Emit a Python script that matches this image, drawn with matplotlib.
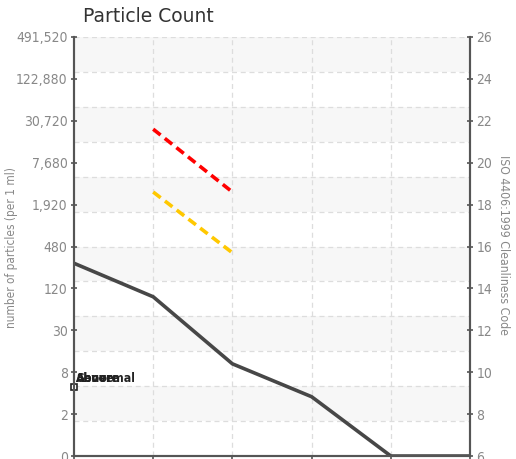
#!/usr/bin/env python3
"""Chart: particle count vs ISO 4406:1999 cleanliness code."""

import numpy as np
import matplotlib
matplotlib.use("Agg")
import matplotlib.pyplot as plt
from matplotlib.font_manager import FontProperties

# Data
iso_codes = [6, 8, 10, 12, 14, 16, 18, 20, 22, 24, 26]
count_labels = ["0", "2", "8", "30", "120", "480", "1,920", "7,680", "30,720", "122,880", "491,520"]

channels = [0, 1, 2, 3, 4, 5]
measured = [15.2, 13.6, 10.4, 8.83, 6.0, 6.0]

limit_x = [1, 2]
severe_limit = [21.6, 18.6]
abnormal_limit = [18.6, 15.7]

legend_labels = ["Above", "Abnormal", "Severe"]

# Plot
fig = plt.figure(figsize=(5.16, 4.59), dpi=100)
ax = fig.add_axes([0.1434, 0.0065, 0.7675, 0.9129])

# alternating bands + dashed grid
edges = np.linspace(6, 26, 13)
for i in range(12):
    if i % 2 == 0:
        ax.axhspan(edges[-2 - i], edges[-1 - i], color="#f7f7f7", lw=0, zorder=0)
for e in edges[1:]:
    ax.axhline(e, color="#dddddd", lw=0.9, ls=(0, (4, 3)), zorder=1)
for c in channels[1:-1]:
    ax.axvline(c, color="#dddddd", lw=0.9, ls=(0, (4, 3)), zorder=1)

ax.plot(limit_x, severe_limit, color="#ff0000", lw=2.6, ls=(0, (2.6, 1.5)), zorder=3)
ax.plot(limit_x, abnormal_limit, color="#ffc800", lw=2.6, ls=(0, (2.6, 1.5)), zorder=3)
ax.plot(channels, measured, color="#474747", lw=2.6, solid_joinstyle="round", zorder=4)

ax.set_xlim(0, 5)
ax.set_ylim(6, 26)
ax.set_xticks(channels)
ax.set_xticklabels([])
ax.set_yticks(iso_codes)
ax.set_yticklabels(count_labels)

tick_font = dict(family="DejaVu Sans", stretch="condensed", size=10)
for lbl in ax.get_yticklabels():
    lbl.set_fontproperties(FontProperties(**tick_font))
    lbl.set_color("#888888")
ax.tick_params(axis="y", direction="inout", length=5, width=1.2, color="#555555", pad=2)
ax.tick_params(axis="x", direction="out", length=4, width=1.2, color="#555555")

for side in ["left", "right", "bottom"]:
    ax.spines[side].set_color("#555555")
    ax.spines[side].set_linewidth(1.5)
ax.spines["top"].set_visible(False)

ax2 = ax.twinx()
ax2.set_ylim(6, 26)
ax2.set_yticks(iso_codes)
ax2.set_yticklabels([str(c) for c in iso_codes])
for lbl in ax2.get_yticklabels():
    lbl.set_fontproperties(FontProperties(**tick_font))
    lbl.set_color("#888888")
ax2.tick_params(axis="y", direction="inout", length=5, width=1.2, color="#555555", pad=2)
for side in ["left", "right", "bottom"]:
    ax2.spines[side].set_color("#555555")
    ax2.spines[side].set_linewidth(1.5)
ax2.spines["top"].set_visible(False)

# overlapping legend entries (they sit on top of each other in the original)
ax.plot([0], [0.165], transform=ax.transAxes, marker="s", ms=5, mfc="white",
        mec="#222222", mew=1.2, clip_on=False, zorder=6)
for lab in legend_labels:
    ax.text(0.005, 0.186, lab, transform=ax.transAxes, fontsize=8.8, color="#222222",
            fontweight="semibold", fontstretch="condensed", va="center", ha="left", zorder=6)

fig.text(0.161, 0.984, "Particle Count", fontsize=13.5, color="#333333", va="top", ha="left")
fig.text(0.022, 0.46, "number of particles (per 1 ml)", rotation=90, fontsize=8.5,
         color="#888888", va="center", ha="center", fontstretch="condensed")
fig.text(0.975, 0.466, "ISO 4406:1999 Cleanliness Code", rotation=270, fontsize=8.8,
         color="#888888", va="center", ha="center", fontstretch="condensed")

plt.savefig("out.png", dpi=100)
print("Chart saved to out.png")
